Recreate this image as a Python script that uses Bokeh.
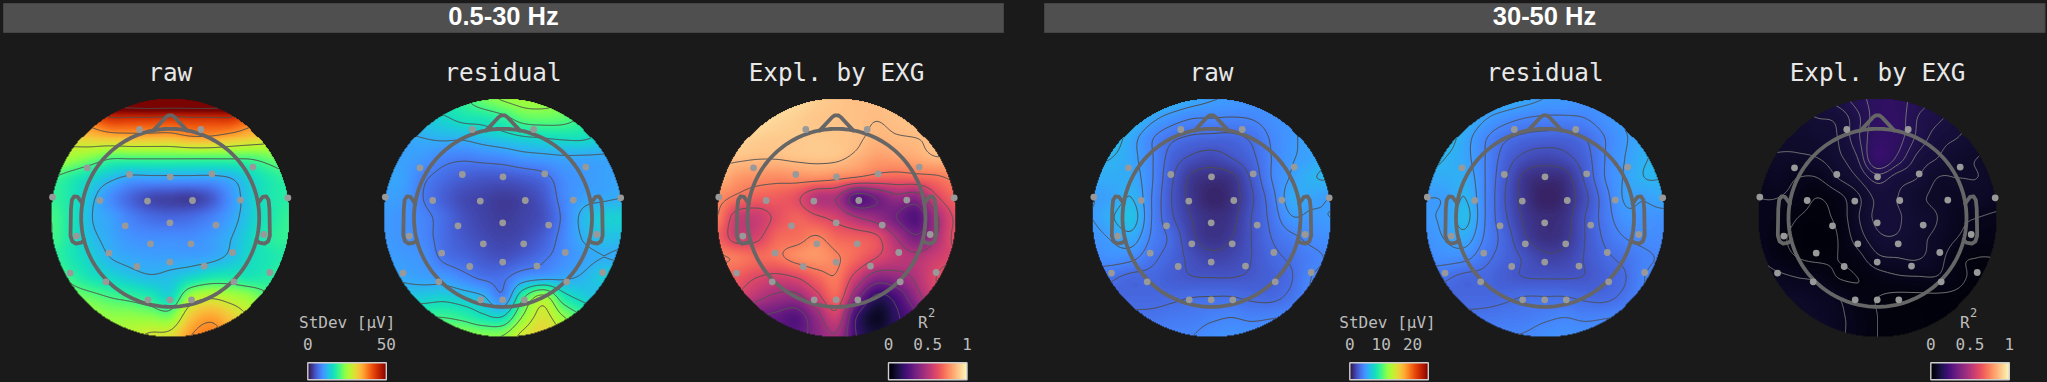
import numpy as np
from bokeh.core.properties import value
from bokeh.embed import file_html
from bokeh.models import LinearColorMapper, Range1d
from bokeh.palettes import Magma256, Turbo256
from bokeh.plotting import figure
from bokeh.resources import INLINE

# Values on a 13x13 grid over each map's square (top row first).
RAW_LOW = [
    [48, 50, 54, 57, 59, 60, 60, 60, 60, 58, 55, 53, 51],
    [36, 38, 40, 43.5, 43.5, 43.5, 43, 43.5, 43.5, 43.5, 40, 38, 36],
    [30, 30.5, 32, 33, 33.5, 33.5, 33.5, 35, 35, 33.5, 32, 30.5, 30],
    [27, 25, 23, 20.5, 20.5, 20.5, 20.5, 20.5, 20.5, 20.5, 20.5, 22, 24],
    [20, 18, 15.5, 13, 11, 11, 11, 11, 11, 12, 15, 17.5, 19],
    [19, 17, 13, 9, 6, 4, 3.5, 3.2, 5, 9.5, 14, 17, 18],
    [20, 17, 12.3, 10.5, 8, 6.5, 6, 6.5, 8, 10.5, 14, 17, 19],
    [20, 17, 13, 11, 9.5, 9, 9, 9, 10, 11.8, 15, 18, 19],
    [19, 17, 14.5, 12, 11, 10.5, 10.5, 10.5, 11, 12.8, 15.5, 17, 18],
    [22, 19, 16.5, 15, 13.5, 12.5, 13, 15, 17, 17.5, 17, 18, 20],
    [26, 23, 21.5, 20, 19, 17.5, 15.5, 25, 27.5, 26, 24, 20.5, 18],
    [28, 26, 25, 24, 24, 23.5, 23, 32, 35, 32, 28, 26, 24],
    [30, 28, 27, 26, 27, 29, 30, 36, 37.5, 35.5, 32, 30, 28],
]
RESIDUAL_LOW = [
    [15, 16, 17, 18, 19, 22, 24, 25, 25, 24, 22, 20, 18],
    [12, 13, 14, 15, 16.5, 17, 18.5, 21, 21.5, 21, 19, 17, 16],
    [10.5, 11, 11.5, 12, 12, 13, 14, 15, 15.5, 16, 16, 14.5, 13],
    [10.5, 10.5, 10, 8.5, 8, 8.5, 9, 10, 10.5, 11, 11, 11, 11],
    [11, 10.5, 8, 6.5, 5.5, 5, 5, 5.5, 6.5, 9, 10, 10.5, 11],
    [10.5, 10, 7.5, 5.5, 4, 3.5, 3, 3.5, 5, 8.5, 10.5, 11, 11.5],
    [10, 9.5, 8.3, 6.5, 4.5, 3.5, 3, 3.5, 4.5, 8, 12.3, 14, 14.5],
    [10, 9.5, 8.5, 6.5, 5, 4, 3.5, 4, 5.5, 8.5, 11.7, 13, 13],
    [10.5, 10, 9.5, 7, 6, 5, 4.5, 5.5, 7, 9, 10.5, 11.5, 11],
    [12, 11, 10.5, 10, 8.5, 7, 7, 9.5, 10.5, 11, 12, 14, 15],
    [15, 14, 14, 14.5, 13.5, 12, 8.5, 19, 25, 17.5, 14.5, 13, 12],
    [20, 20, 19.5, 19.5, 18.5, 16.5, 16, 24, 29, 24, 20, 19, 18],
    [24, 24, 24, 24, 24, 23.5, 24, 29, 31, 28, 24, 22, 20],
]
EXPL_LOW = [
    [.96, .96, .96, .95, .93, .9, .88, .87, .87, .87, .87, .87, .87],
    [.95, .95, .94, .92, .9, .88, .875, .87, .862, .87, .875, .87, .86],
    [.93, .92, .9, .89, .89, .89, .88, .87, .845, .855, .86, .87, .87],
    [.88, .875, .865, .865, .875, .88, .875, .84, .8, .81, .825, .855, .85],
    [.85, .79, .77, .76, .77, .77, .75, .72, .69, .68, .69, .71, .75],
    [.76, .71, .67, .66, .62, .5, .47, .27, .34, .43, .4, .58, .68],
    [.73, .55, .55, .62, .67, .62, .57, .48, .42, .33, .26, .45, .62],
    [.67, .56, .58, .68, .7, .74, .68, .66, .62, .47, .35, .47, .63],
    [.74, .72, .69, .71, .76, .78, .74, .68, .6, .53, .5, .55, .6],
    [.68, .65, .6, .57, .6, .68, .72, .55, .4, .42, .49, .6, .66],
    [.62, .58, .5, .44, .43, .56, .67, .38, .17, .24, .42, .56, .62],
    [.45, .4, .33, .3, .27, .42, .55, .2, .07, .18, .3, .4, .45],
    [.3, .3, .3, .3, .28, .38, .45, .2, .12, .2, .3, .3, .3],
]
RAW_HIGH = [
    [6.4, 6.4, 6.4, 6.4, 6.1, 5.6, 5.2, 5, 4.8, 4.8, 4.8, 5, 5.2],
    [6.4, 6.4, 6.4, 5.4, 4.7, 4.25, 4.2, 4.15, 4.25, 4.6, 5, 5.4, 5.6],
    [6.5, 6.5, 5.5, 4.3, 3.5, 3.15, 3.05, 3.05, 3.45, 4.3, 4.9, 5.5, 5.9],
    [6.1, 6, 5.4, 4.3, 2.9, 2.25, 2, 2.4, 3.05, 4.2, 5, 5.4, 6.1],
    [5.7, 5.7, 5.6, 4.3, 2.55, 1.35, 1.05, 1.25, 2.55, 4.2, 5.2, 5.9, 6.1],
    [5.1, 5.4, 6, 4.2, 2.4, 1.25, .7, 1.05, 2.25, 3.8, 5.6, 5.4, 5.1],
    [5.1, 5.9, 6.5, 4.2, 2.55, 1.5, 1.05, 1.25, 2.4, 3.55, 5, 4.9, 5.1],
    [4.7, 5.2, 5.6, 4.05, 3.05, 1.7, 1.15, 1.5, 2.4, 3.3, 3.95, 4.45, 4.6],
    [4.45, 4.65, 4.45, 3.55, 2.9, 2.15, 1.75, 1.9, 2.4, 3.05, 3.45, 3.95, 4.3],
    [3.95, 3.45, 3.05, 3.05, 2.7, 2.45, 2.4, 2.4, 2.55, 2.85, 3.25, 4.2, 4.45],
    [3.55, 3.05, 3.05, 3.05, 3.15, 3.3, 3.35, 3.35, 3.15, 3.1, 3.55, 4.3, 4.45],
    [3.8, 3.8, 3.55, 3.55, 3.7, 3.8, 4.05, 4.2, 4.05, 4.15, 4.3, 4.45, 4.45],
    [4.2, 4.2, 4.2, 4.05, 4.2, 4.2, 4.6, 4.7, 4.7, 4.7, 4.6, 4.45, 4.45],
]
RESIDUAL_HIGH = [
    [6.4, 6.4, 6.4, 6.1, 5.9, 5.5, 5.1, 5, 4.8, 4.8, 4.8, 5, 5.1],
    [6.5, 6.5, 6.1, 5.2, 4.6, 4.2, 4.05, 4.05, 4.2, 4.7, 5.2, 5.6, 5.7],
    [6.6, 6.5, 5.5, 4.3, 3.45, 3.05, 2.9, 2.9, 3.3, 4.2, 5, 5.6, 5.9],
    [6.4, 6, 5.4, 4.2, 2.9, 2.15, 1.9, 2.15, 2.9, 4.2, 5.1, 5.9, 6.3],
    [5.6, 5.7, 5.7, 4.2, 2.55, 1.25, .95, 1.15, 2.55, 4.2, 5.2, 6, 6],
    [5.1, 5.2, 6, 4.2, 2.4, 1.15, .6, .95, 2.15, 3.8, 5.2, 5.2, 5.6],
    [5, 5.3, 6.3, 4.2, 2.55, 1.35, .95, 1.15, 2.4, 3.7, 4.8, 4.8, 4.7],
    [4.7, 5.15, 5.6, 4.05, 2.9, 1.6, 1.05, 1.3, 2.4, 3.45, 4.2, 4.45, 4.45],
    [4.45, 4.6, 4.45, 3.55, 2.9, 2.25, 1.7, 1.8, 2.45, 3.1, 3.55, 4.05, 4.3],
    [3.95, 3.45, 3.05, 3.05, 2.65, 2.4, 2.35, 2.35, 2.45, 2.85, 3.25, 4.2, 4.45],
    [3.55, 3.05, 3.05, 3.05, 3.15, 3.35, 3.35, 3.35, 3.15, 3.1, 3.55, 4.2, 4.3],
    [3.8, 3.8, 3.55, 3.6, 3.7, 3.8, 4.05, 4.2, 4.05, 4.15, 4.3, 4.45, 4.45],
    [4.2, 4.2, 4.2, 4.2, 4.2, 4.3, 4.6, 4.7, 4.7, 4.7, 4.6, 4.45, 4.45],
]
EXPL_HIGH = [
    [.12, .12, .12, .12, .13, .15, .17, .17, .15, .14, .13, .12, .12],
    [.1, .1, .095, .1, .105, .135, .172, .172, .14, .125, .11, .1, .1],
    [.085, .085, .085, .09, .1, .135, .18, .17, .135, .11, .1, .09, .09],
    [.08, .078, .077, .08, .095, .12, .19, .155, .115, .1, .085, .08, .075],
    [.061, .067, .055, .055, .08, .1, .13, .11, .1, .08, .08, .08, .075],
    [.055, .055, .045, .03, .045, .075, .105, .1, .085, .075, .067, .075, .067],
    [.055, .045, .03, .025, .036, .077, .105, .102, .09, .08, .061, .055, .05],
    [.055, .036, .025, .02, .03, .067, .095, .098, .085, .075, .055, .045, .042],
    [.057, .042, .03, .025, .03, .045, .075, .08, .082, .067, .036, .03, .03],
    [.067, .061, .055, .05, .03, .03, .042, .051, .053, .053, .036, .025, .025],
    [.08, .075, .075, .067, .056, .036, .03, .025, .025, .025, .025, .02, .02],
    [.08, .08, .08, .075, .061, .045, .03, .025, .025, .02, .02, .02, .02],
    [.085, .085, .08, .075, .061, .045, .03, .025, .025, .02, .02, .02, .02],
]

LEVELS_RAW_LOW = [12, 20, 28, 36, 44, 52]
LEVELS_RESIDUAL_LOW = [7.5, 11.5, 15.5, 19.5, 23.5, 27.5]
LEVELS_EXPL_LOW = [.2, .33, .47, .6, .73, .86]
LEVELS_STD_HIGH = [1.5, 2.4, 3.3, 4.2, 5.1, 6.0]
LEVELS_EXPL_HIGH = [.03, .055, .08, .1, .12, .14, .16]

# Electrode offsets from the map centre, px (same montage on all maps)
ELECTRODE_DX = [-117.7, -83, -30.7, 30.7, 82.7, 117.7, -40.7, 0, 41.7, -70.3, -22.7, 22.3, 70.3, -45,
                -.3, 45.7, -93.7, 93.7, -19.7, 20.7, -61.3, 62.3, -33.3, -.3, 34, -100, 99.7, -64.3,
                63.7, -22.3, -.3, 21.3]
ELECTRODE_DY = [-20.7, -50, -88.3, -88.3, -50.7, -20, -43.3, -41, -44, -17.3, -16.7, -17.3, -17.7, 8,
                5, 7.3, 18.3, 16.7, 26, 26, 35.3, 34.7, 48.7, 44.3, 48.3, 55.3, 54.7, 64, 64, 82, 82, 82]

NOSE_X = [-.19, -.05, -.02, .02, .05, .19]
NOSE_Y = [.98, 1.13, 1.15, 1.15, 1.13, .98]
EAR_X = [.985, 1.04, 1.08, 1.105, 1.115, 1.12, 1.1, 1.06, 1.0, .97]
EAR_Y = [.16, .235, .24, .2, .1, -.2, -.265, -.29, -.28, -.25]

BG = "#1a1a1a"
W, H = 2047, 382
R, HEAD_R, CY = 119.7, 89.0, 217.3
MONO = "DejaVu Sans Mono"
BASE_SHIFT = 0.38  # the svg text sits this fraction of its size below the requested baseline


def Y(py):
    return H - np.asarray(py, dtype=float)


def catmull(grid, n):
    """Display smoothing of a read grid along its first axis."""
    g = np.asarray(grid, dtype=float)
    m = g.shape[0]
    t = np.linspace(0, m - 1, n)
    i = np.clip(np.floor(t).astype(int), 0, m - 2)
    u = (t - i)[:, None]
    p0, p1, p2, p3 = g[np.clip(i - 1, 0, m - 1)], g[i], g[i + 1], g[np.clip(i + 2, 0, m - 1)]
    return .5 * (2 * p1 + (p2 - p0) * u + (2 * p0 - 5 * p1 + 4 * p2 - p3) * u ** 2 + (3 * p1 - p0 - 3 * p2 + p3) * u ** 3)


def field(grid, n=240):
    z = catmull(catmull(grid, n).T, n).T[::-1].copy()
    c = np.linspace(-1, 1, n)
    xx, yy = np.meshgrid(c, c)
    z[xx ** 2 + yy ** 2 > 1] = np.nan
    return z


p = figure(width=W, height=H, x_range=Range1d(0, W), y_range=Range1d(0, H), toolbar_location=None,
           output_backend="svg", min_border=0, x_axis_location=None, y_axis_location=None,
           background_fill_color=BG, border_fill_color=BG, outline_line_color=None)
p.xgrid.visible = False
p.ygrid.visible = False


def label(xs, py, texts, size, color, font=MONO, style="normal"):
    p.text(x=list(xs), y=[float(Y(py - BASE_SHIFT * size))] * len(xs), text=list(texts), text_font=value(font),
           text_font_style=style, text_font_size=f"{size}px", text_color=color, text_align="center",
           text_baseline="alphabetic")


for left, right, cx, band in [(3, 1003, 503, "0.5-30 Hz"), (1044, 2044.5, 1544, "30-50 Hz")]:
    p.quad(left=[left], right=[right], top=[Y(3)], bottom=[Y(32)], fill_color="#4f4f4f", line_color="#444444", line_width=1)
    label([cx], 25, [band], 25.5, "#ffffff", font="Liberation Sans", style="bold")


def colorbar(left, vmax, palette, ticks, tick_px, title, title_x):
    mapper = LinearColorMapper(palette=palette, low=0, high=vmax)
    p.image(image=[np.linspace(0, vmax, 256)[None, :]], x=left, y=Y(379.3), dw=78.5, dh=17, color_mapper=mapper)
    p.quad(left=[left], right=[left + 78.5], top=[Y(362.3)], bottom=[Y(379.3)], fill_color=None,
           line_color="#cfcfcf", line_width=1.4)
    label([left + t for t in tick_px], 350, ticks, 16, "#bdbdbd")
    if title == "R2":
        label([title_x - 4.5], 328, ["R"], 16, "#bdbdbd")
        label([title_x + 4.5], 316.5, ["2"], 12, "#bdbdbd")
    else:
        label([title_x], 328, [title], 16, "#bdbdbd")


def topomap(cx, title, grid, vmax, palette, levels, contour_color):
    z = field(grid)
    n = z.shape[0]
    mapper = LinearColorMapper(palette=palette, low=0, high=vmax, nan_color=(0, 0, 0, 0))
    p.image(image=[z], x=cx - R, y=Y(CY + R), dw=2 * R, dh=2 * R, color_mapper=mapper)
    xs = np.linspace(cx - R, cx + R, n)
    ys = np.linspace(Y(CY + R), Y(CY - R), n)
    p.contour(xs, ys, z, levels, line_color=contour_color, line_width=1.0)

    a = np.linspace(0, 2 * np.pi, 181)
    head = dict(line_color="#666666", line_width=3.8, line_join="round", line_cap="round")
    p.line(cx + HEAD_R * np.cos(a), Y(CY) + HEAD_R * np.sin(a), **head)
    p.line(cx + HEAD_R * np.array(NOSE_X), Y(CY) + HEAD_R * np.array(NOSE_Y), **head)
    for side in (-1, 1):
        p.line(cx + side * HEAD_R * np.array(EAR_X), Y(CY) + HEAD_R * np.array(EAR_Y), **head)

    p.scatter(cx + np.array(ELECTRODE_DX), Y(CY) - np.array(ELECTRODE_DY), size=6.8, fill_color="#999999", line_color=None)
    label([cx], 81, [title], 24.3, "#e8e8e8")


DARK, LIGHT = "#4d4d4d", "#757575"
topomap(169.7, "raw", RAW_LOW, 50, Turbo256, LEVELS_RAW_LOW, DARK)
topomap(502.5, "residual", RESIDUAL_LOW, 50, Turbo256, LEVELS_RESIDUAL_LOW, DARK)
topomap(836, "Expl. by EXG", EXPL_LOW, 1, Magma256, LEVELS_EXPL_LOW, "#555555")
topomap(1211, "raw", RAW_HIGH, 25, Turbo256, LEVELS_STD_HIGH, DARK)
topomap(1544.5, "residual", RESIDUAL_HIGH, 25, Turbo256, LEVELS_STD_HIGH, DARK)
topomap(1877, "Expl. by EXG", EXPL_HIGH, 1, Magma256, LEVELS_EXPL_HIGH, LIGHT)

colorbar(307.3, 50, Turbo256, ["0", "50"], [0, 78.5], "StDev [μV]", 346.7)
colorbar(888, 1, Magma256, ["0", "0.5", "1"], [0, 39.2, 78.5], "R2", 926.7)
colorbar(1349.3, 25, Turbo256, ["0", "10", "20"], [0, 31.4, 62.8], "StDev [μV]", 1387)
colorbar(1930.3, 1, Magma256, ["0", "0.5", "1"], [0, 39.2, 78.5], "R2", 1968.7)

CSS = "<style>html,body{margin:0;padding:0;background:#1a1a1a;overflow:hidden}</style>"
open("out.html", "w").write(file_html(p, INLINE).replace("<head>", "<head>" + CSS, 1))
